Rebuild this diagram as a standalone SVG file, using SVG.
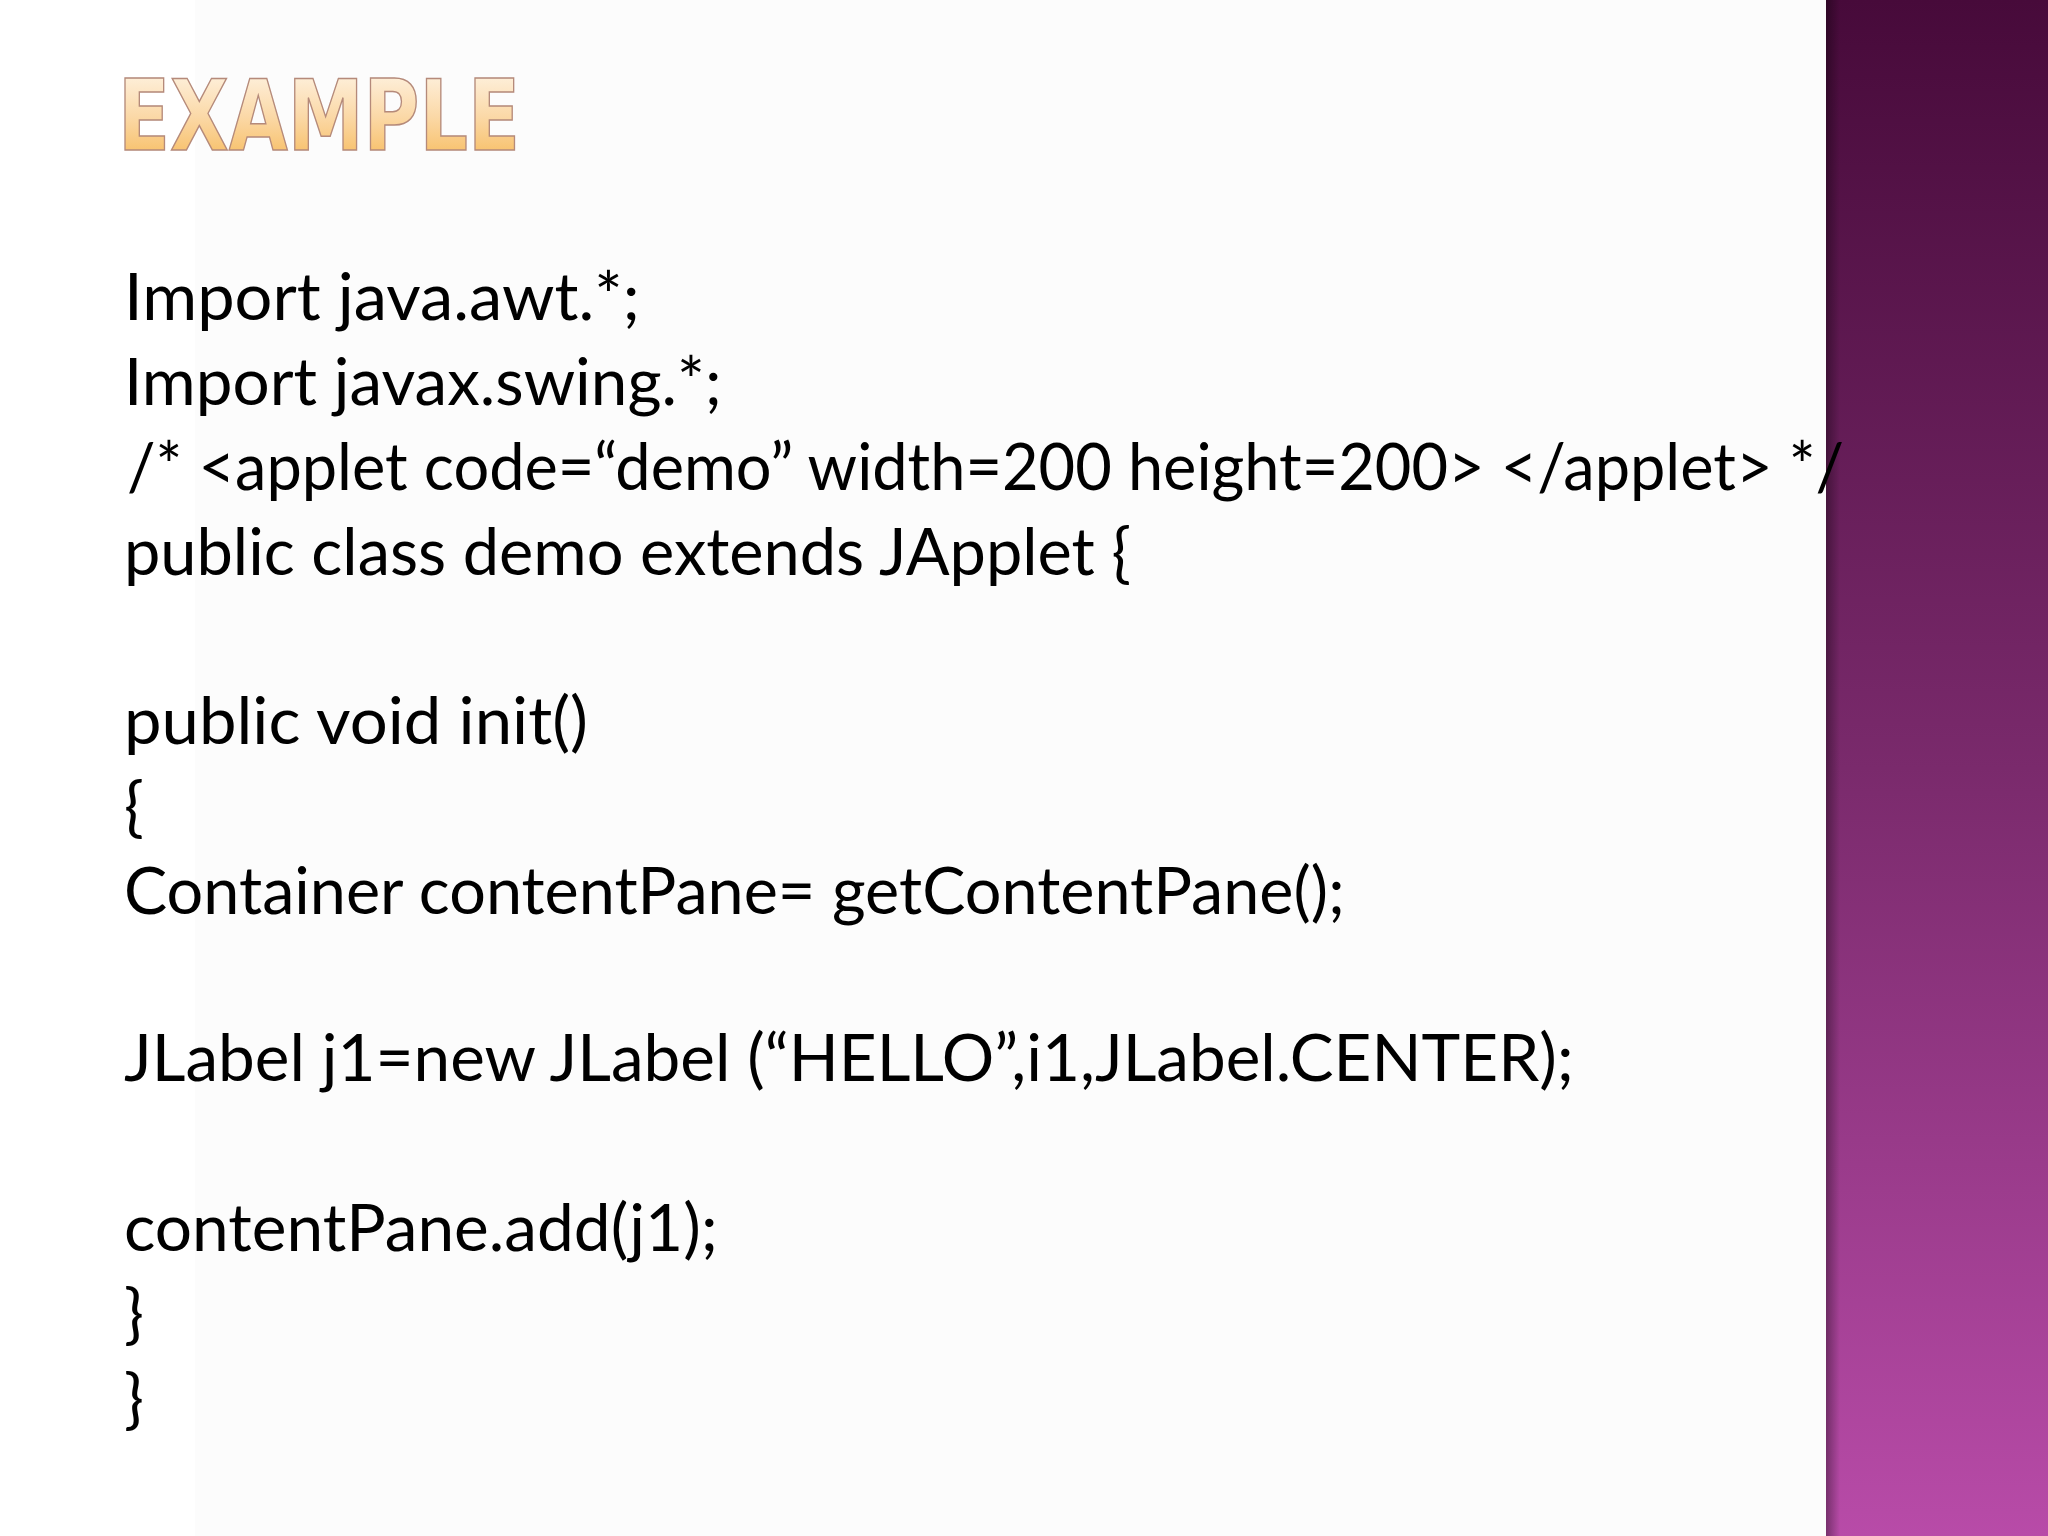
<svg xmlns="http://www.w3.org/2000/svg" width="2048" height="1536" viewBox="0 0 2048 1536">
<defs>
<linearGradient id="bar" x1="0" y1="0" x2="0" y2="1"><stop offset="0" stop-color="#470a3a"/><stop offset="0.5" stop-color="#7a2a6c"/><stop offset="1" stop-color="#b84ba8"/></linearGradient>
<linearGradient id="edge" x1="0" y1="0" x2="1" y2="0"><stop offset="0" stop-color="#000" stop-opacity="0.35"/><stop offset="1" stop-color="#000" stop-opacity="0"/></linearGradient>
<linearGradient id="title" x1="0" y1="0" x2="0" y2="1"><stop offset="0" stop-color="#fff8ee"/><stop offset="0.5" stop-color="#fbd9a8"/><stop offset="1" stop-color="#f6b54e"/></linearGradient>
<style>.c{font-family:Lato,"Liberation Sans",sans-serif;font-size:66px;fill:#000}</style>
</defs>
<rect width="2048" height="1536" fill="#fcfcfc"/>
<rect x="0" width="195" height="1536" fill="#ffffff"/>
<rect x="1826" width="222" height="1536" fill="url(#bar)"/>
<rect x="1826" width="14" height="1536" fill="url(#edge)"/>
<g id="title"><text x="118" y="150" font-family="'DejaVu Sans Condensed','DejaVu Sans',sans-serif" font-size="98" font-weight="bold" textLength="402" lengthAdjust="spacingAndGlyphs" fill="url(#title)" stroke="#b58a7a" stroke-width="1.5">EXAMPLE</text></g>
<g id="code">
<text class="c" x="124" y="320" textLength="516" lengthAdjust="spacingAndGlyphs">Import java.awt.*;</text>
<text class="c" x="124" y="405" textLength="598" lengthAdjust="spacingAndGlyphs">Import javax.swing.*;</text>
<text class="c" x="127" y="490" textLength="1717" lengthAdjust="spacingAndGlyphs">/* &lt;applet code=“demo” width=200 height=200&gt; &lt;/applet&gt; */</text>
<text class="c" x="124" y="575" textLength="1007" lengthAdjust="spacingAndGlyphs">public class demo extends JApplet {</text>
<text class="c" x="124" y="744" textLength="464" lengthAdjust="spacingAndGlyphs">public void init()</text>
<text class="c" x="124" y="829">{</text>
<text class="c" x="124" y="914" textLength="1221" lengthAdjust="spacingAndGlyphs">Container contentPane=  getContentPane();</text>
<text class="c" x="124" y="1081" textLength="1450" lengthAdjust="spacingAndGlyphs">JLabel j1=new JLabel (“HELLO”,i1,JLabel.CENTER);</text>
<text class="c" x="124" y="1251" textLength="594" lengthAdjust="spacingAndGlyphs">contentPane.add(j1);</text>
<text class="c" x="124" y="1336">}</text>
<text class="c" x="124" y="1421">}</text>
</g>
</svg>
